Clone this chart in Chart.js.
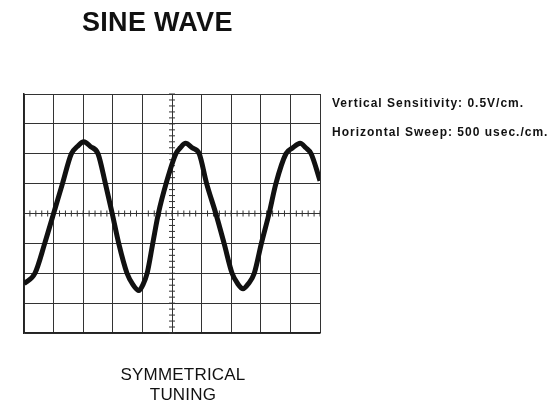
<!DOCTYPE html>
<html>
<head>
<meta charset="utf-8">
<script src="https://cdn.jsdelivr.net/npm/chart.js@4"></script>
<style>
  body { margin: 0; background: #fff; }
  #wrap { position: relative; width: 553px; height: 406px; font-family: "Liberation Sans", Arial, sans-serif; color: #111; }
  canvas { position: absolute; left: 0; top: 0; }
  .title { position: absolute; left: 82px; top: 7px; font-size: 27px; font-weight: bold; letter-spacing: 0.3px; }
  .note { position: absolute; left: 332px; font-size: 12px; font-weight: bold; letter-spacing: 1px; white-space: nowrap; }
  .caption { position: absolute; left: 100px; width: 166px; top: 365px; font-size: 17px; line-height: 20px; text-align: center; letter-spacing: 0.2px; }
</style>
</head>
<body>
<div id="wrap">
  <canvas id="scope" width="553" height="406"></canvas>
  <div class="title">SINE WAVE</div>
  <div class="note" style="top:96px">Vertical Sensitivity: 0.5V/cm.</div>
  <div class="note" style="top:125px">Horizontal Sweep: 500 usec./cm.</div>
  <div class="caption">SYMMETRICAL<br>TUNING</div>
</div>
<script>
const sweepDiv = [0.00, 0.37, 0.70, 1.00, 1.30, 1.60, 1.80, 2.02, 2.25, 2.50, 2.75, 2.98, 3.20, 3.48, 3.68, 3.88,
  4.02, 4.16, 4.35, 4.54, 4.80, 5.13, 5.28, 5.46, 5.68, 5.92, 6.17, 6.48, 6.76, 7.03, 7.22, 7.40,
  7.58, 7.78, 8.02, 8.28, 8.51, 8.85, 9.08, 9.33, 9.52, 9.70, 10.0];
const traceDiv = [-2.35, -2.0, -1.0, 0.0, 1.0, 2.0, 2.24, 2.4, 2.24, 2.0, 1.0, 0.0, -1.0, -2.0, -2.38, -2.58,
  -2.38, -2.0, -1.0, 0.0, 1.0, 2.0, 2.2, 2.35, 2.2, 2.0, 1.0, 0.0, -1.0, -2.0, -2.35, -2.52,
  -2.35, -2.0, -1.0, 0.0, 1.0, 2.0, 2.2, 2.35, 2.2, 2.0, 1.1];

const xDivs = 10;
const yDivs = 4;

// small marks on the centre lines, 5 per division
const centreTicks = {
  id: "centreTicks",
  beforeDatasetsDraw(chart) {
    const { ctx, scales: { x, y } } = chart;
    const x0 = x.getPixelForValue(xDivs / 2);
    const y0 = y.getPixelForValue(0);
    ctx.save();
    ctx.strokeStyle = "#333";
    ctx.lineWidth = 1;
    ctx.beginPath();
    for (let i = 0; i <= xDivs * 5; i++) {
      const px = x.getPixelForValue(i / 5);
      ctx.moveTo(px, y0 - 3);
      ctx.lineTo(px, y0 + 3);
    }
    for (let i = -yDivs * 5; i <= yDivs * 5; i++) {
      const py = y.getPixelForValue(i / 5);
      ctx.moveTo(x0 - 3, py);
      ctx.lineTo(x0 + 3, py);
    }
    ctx.stroke();
    ctx.restore();
  }
};

new Chart(document.getElementById("scope"), {
  type: "line",
  data: {
    datasets: [{
      data: sweepDiv.map((v, i) => ({ x: v, y: traceDiv[i] })),
      borderColor: "#111",
      borderWidth: 5,
      pointRadius: 0,
      cubicInterpolationMode: "monotone"
    }]
  },
  options: {
    responsive: false,
    animation: false,
    layout: { padding: { left: 24, top: 94, right: 233, bottom: 73 } },
    plugins: { legend: { display: false }, tooltip: { enabled: false } },
    scales: {
      x: {
        type: "linear", min: 0, max: xDivs,
        ticks: { display: false, stepSize: 1 },
        grid: { color: "#333", lineWidth: 1, drawTicks: false },
        border: { color: "#222", width: 1.5 }
      },
      y: {
        type: "linear", min: -yDivs, max: yDivs,
        ticks: { display: false, stepSize: 1 },
        grid: { color: "#333", lineWidth: 1, drawTicks: false },
        border: { color: "#222", width: 1.5 }
      }
    }
  },
  plugins: [centreTicks]
});
</script>
</body>
</html>
